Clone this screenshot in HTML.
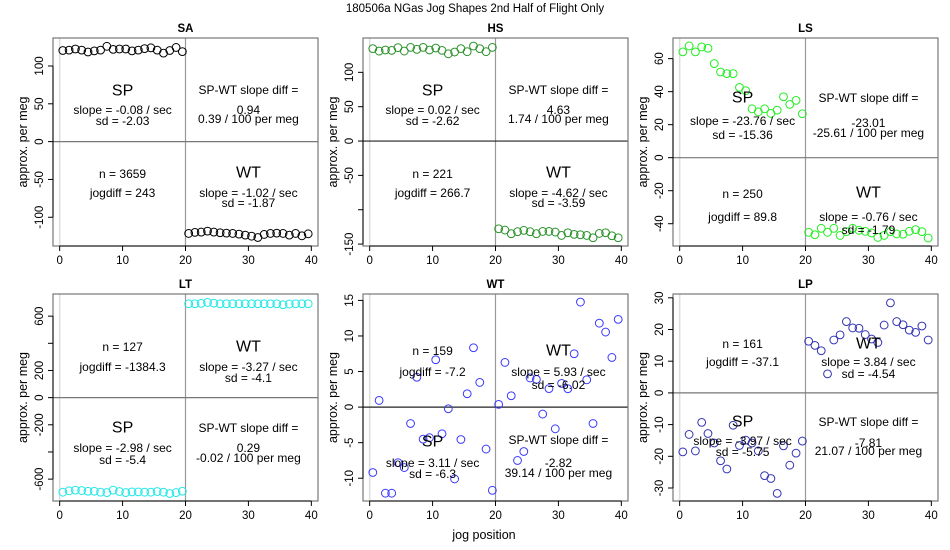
<!DOCTYPE html>
<html><head><meta charset="utf-8"><style>
html,body{margin:0;padding:0;background:#fff;}
svg{display:block;font-family:"Liberation Sans",Arial,sans-serif;}
</style></head><body>
<svg id="chart" width="950" height="550" viewBox="0 0 950 550" xmlns="http://www.w3.org/2000/svg">
<text x="475" y="12" text-anchor="middle" font-size="11.5" fill="#000">180506a   NGas Jog Shapes 2nd Half of Flight Only</text>
<text x="484" y="539" text-anchor="middle" font-size="12.5" fill="#000">jog position</text>
</svg>
<script>
// ---- data (values per jog position 0.5..39.5) ----
const saSP=[120.5,121,122.5,121,118.5,120,121,126,122,122.5,122.5,120,121,123,124,121,117,120.5,124.5,119];
const saWT=[-121.4,-120,-119.6,-118.3,-119.6,-120.5,-121,-121.4,-122.3,-123.6,-125,-126.8,-122.7,-121.4,-121,-121.4,-123.6,-121.4,-124.5,-121.9];
const hsSP=[134.5,131,132.5,132,136,131,136.4,133.5,136.4,132.5,135.4,132,127,129.6,134.5,130.1,138.3,134.5,130.1,136.4];
const hsWT=[-127.7,-129.6,-134.9,-132,-130,-132,-134.9,-131.6,-131.6,-132.5,-137.4,-133.5,-135.9,-136.4,-137.4,-140.8,-134.5,-133.5,-137.9,-140.8];
const lsSP=[64.1,67.7,64.1,67.1,66.3,57.0,51.9,50.9,50.9,42.6,40.6,29.6,27.8,29.6,26.8,28.8,36.9,32.3,34.7,26.6];
const lsWT=[-45.2,-46.7,-42.8,-45.2,-42.8,-47.1,-44.8,-42.8,-44.0,-44.6,-45.6,-48.3,-47.1,-44.8,-46.2,-46.4,-44.6,-43.6,-44.8,-48.7];
const ltSP=[-696,-686,-681,-684,-689,-689,-696,-699,-681,-691,-699,-694,-694,-696,-696,-691,-696,-706,-699,-689];
const ltWT=[691,691,694,701,696,691,691,691,691,691,691,691,691,691,691,684,689,691,691,691];
const wtSP=[-9.19,0.94,-12.1,-12.1,-7.8,-8.5,-2.3,4.2,-4.5,-4.3,6.66,-3.75,-0.23,-10.1,-4.55,1.88,8.34,3.47,-5.9,-11.7];
const wtWT=[0.38,6.28,1.6,-7.5,-6.24,4.1,3.9,-0.98,2.6,-3.05,3.33,2.58,7.5,14.77,3.84,-2.3,11.8,10.55,6.98,12.33];
const lpSP=[-18.6,-13.1,-18.3,-9.3,-12.8,-15.8,-21.4,-24.0,-10.2,-16.6,-14.9,-15.8,-18.3,-26.1,-27.0,-31.7,-16.7,-22.8,-19.0,-15.2];
const lpWT=[16.3,15.0,13.3,6.0,16.7,18.3,22.5,20.5,20.4,18.4,17.0,15.9,21.4,28.4,22.5,21.5,19.8,19.1,21.1,16.7];
const xTicks=[0,10,20,30,40];
const saTicks=[-100,-50,0,50,100];
const hsTicks=[-150,-100,-50,0,50,100];
const hsLabels=["-150","","-50","0","50","100"];
const lsTicks=[-40,-20,0,20,40,60];
const ltTicks=[-600,-400,-200,0,200,400,600];
const ltLabels=["-600","","-200","0","200","","600"];
const wtTicks=[-10,-5,0,5,10,15];
const lpTicks=[-30,-20,-10,0,10,20,30];
const saText=["SP","slope = -0.08 / sec","sd = -2.03","SP-WT slope diff =","0.94","0.39 / 100 per meg","n = 3659","jogdiff = 243","WT","slope = -1.02 / sec","sd = -1.87"];
const hsText=["SP","slope = 0.02 / sec","sd = -2.62","SP-WT slope diff =","4.63","1.74 / 100 per meg","n = 221","jogdiff = 266.7","WT","slope = -4.62 / sec","sd = -3.59"];
const lsText=["SP","slope = -23.76 / sec","sd = -15.36","SP-WT slope diff =","-23.01","-25.61 / 100 per meg","n = 250","jogdiff = 89.8","WT","slope = -0.76 / sec","sd = -1.79"];
const ltText=["SP","slope = -2.98 / sec","sd = -5.4","SP-WT slope diff =","0.29","-0.02 / 100 per meg","n = 127","jogdiff = -1384.3","WT","slope = -3.27 / sec","sd = -4.1"];
const wtText=["SP","slope = 3.11 / sec","sd = -6.3","SP-WT slope diff =","-2.82","39.14 / 100 per meg","n = 159","jogdiff = -7.2","WT","slope = 5.93 / sec","sd = -6.02"];
const lpText=["SP","slope = -3.97 / sec","sd = -5.75","SP-WT slope diff =","-7.81","21.07 / 100 per meg","n = 161","jogdiff = -37.1","WT","slope = 3.84 / sec","sd = -4.54"];

// ---- layout ----
const NS="http://www.w3.org/2000/svg";
const svg=document.getElementById('chart');
const colLeft=[53,363,673], rowTop=[38,294], rowBot=[246,501], boxW=265;
const XMIN=-1.06, XMAX=41.06;
const offA=[53,72,83,52,72,81,136,155,135,155,165];
const offLS=[60,83,97,60,85,95,156,179,155,179,192];
const offLT=[134,154,166,134,154,164,53,73,53,73,84];
const offWT=[148,169,180,146,169,179,57,78,57,78,91];
const offLP=[128,147,158,128,149,157,50,68,50,68,80];
const textX=[10,10,10,30,30,30,10,10,30,30,30];
const bigIdx=[0,8];

const panels=[
 {name:'sa',title:'SA',col:0,row:0,ymin:-138,ymax:137,ticks:saTicks,labels:null,sp:saSP,wt:saWT,color:'#000',zero:'#777',text:saText,off:offA},
 {name:'hs',title:'HS',col:1,row:0,ymin:-152.8,ymax:150,ticks:hsTicks,labels:hsLabels,sp:hsSP,wt:hsWT,color:'#2a922a',zero:'#222',text:hsText,off:offA},
 {name:'ls',title:'LS',col:2,row:0,ymin:-53.5,ymax:72.5,ticks:lsTicks,labels:null,sp:lsSP,wt:lsWT,color:'#22ee22',zero:'#777',text:lsText,off:offLS},
 {name:'lt',title:'LT',col:0,row:1,ymin:-761,ymax:763,ticks:ltTicks,labels:ltLabels,sp:ltSP,wt:ltWT,color:'#22e8e8',zero:'#777',text:ltText,off:offLT},
 {name:'wt',title:'WT',col:1,row:1,ymin:-13.2,ymax:15.9,ticks:wtTicks,labels:null,sp:wtSP,wt:wtWT,color:'#3a3aff',zero:'#222',text:wtText,off:offWT},
 {name:'lp',title:'LP',col:2,row:1,ymin:-34.1,ymax:31.2,ticks:lpTicks,labels:null,sp:lpSP,wt:lpWT,color:'#3535b5',zero:'#777',text:lpText,off:offLP}
];

function mk(tag,attrs,parent){const e=document.createElementNS(NS,tag);for(const k in attrs)e.setAttribute(k,attrs[k]);(parent||svg).appendChild(e);return e;}

panels.forEach(p=>{
  const L=colLeft[p.col], R=L+boxW, T=rowTop[p.row], B=rowBot[p.row];
  const xs=v=>L+(v-XMIN)/(XMAX-XMIN)*boxW;
  const ys=v=>B-(v-p.ymin)/(p.ymax-p.ymin)*(B-T);
  const g=mk('g',{});
  
  
  const t=mk('text',{x:(L+R)/2,y:T-6,'text-anchor':'middle','font-size':'11.5','font-weight':'bold'},g);
  t.textContent=p.title;
  
  
  const v0=mk('line',{x1:xs(0),x2:xs(0),y1:T,y2:B,stroke:'#ddd','stroke-width':1.5},g);
  
  
  const v20=mk('line',{x1:xs(20),x2:xs(20),y1:T,y2:B,stroke:'#999','stroke-width':1.2},g);
  
  
  const h0=mk('line',{x1:L,x2:R,y1:ys(0),y2:ys(0),stroke:p.zero,'stroke-width':1.2},g);
  
  
  const box=mk('rect',{x:L,y:T,width:boxW,height:B-T,fill:'none',stroke:'#777','stroke-width':1.2},g);
  
  
  const xa=mk('line',{x1:xs(xTicks[0]),x2:xs(xTicks[xTicks.length-1]),y1:B,y2:B,stroke:'#000'},g);
  
  
  xTicks.forEach(v=>{
    mk('line',{x1:xs(v),x2:xs(v),y1:B,y2:B+5,stroke:'#000'},g);
    const l=mk('text',{x:xs(v),y:B+18,'text-anchor':'middle','font-size':'11.5'},g);
    l.textContent=v;
    
    
  });
  const ya=mk('line',{x1:L,x2:L,y1:ys(p.ticks[0]),y2:ys(p.ticks[p.ticks.length-1]),stroke:'#000'},g);
  
  
  p.ticks.forEach((v,i)=>{
    mk('line',{x1:L-5,x2:L,y1:ys(v),y2:ys(v),stroke:'#000'},g);
    const txt=p.labels?p.labels[i]:String(v);
    if(txt){
      const l=mk('text',{x:L-10,y:ys(v),'text-anchor':'middle','font-size':'11.5',transform:`rotate(-90 ${L-10} ${ys(v)})`},g);
      l.textContent=txt;
      
      
    }
  });
  const yt=mk('text',{x:L-26,y:(T+B)/2,'text-anchor':'middle','font-size':'12.5',transform:`rotate(-90 ${L-26} ${(T+B)/2})`},g);
  yt.textContent='approx. per meg';
  
  
  [[p.sp,0,'sp'],[p.wt,20,'wt']].forEach(([arr,base,nm])=>{
    arr.forEach((v,i)=>{
      const c=mk('circle',{cx:xs(base+i+0.5),cy:ys(v),r:3.9,fill:'none',stroke:p.color,'stroke-width':1},g);
      
      
    });
  });
  p.text.forEach((s,i)=>{
    const big=bigIdx.includes(i);
    const a=mk('text',{x:xs(textX[i]),y:T+p.off[i],'text-anchor':'middle','dominant-baseline':'central','font-size':big?'16':'12',fill:'#000'},g);
    a.textContent=s;
    
    
  });
});
</script>
</body></html>
